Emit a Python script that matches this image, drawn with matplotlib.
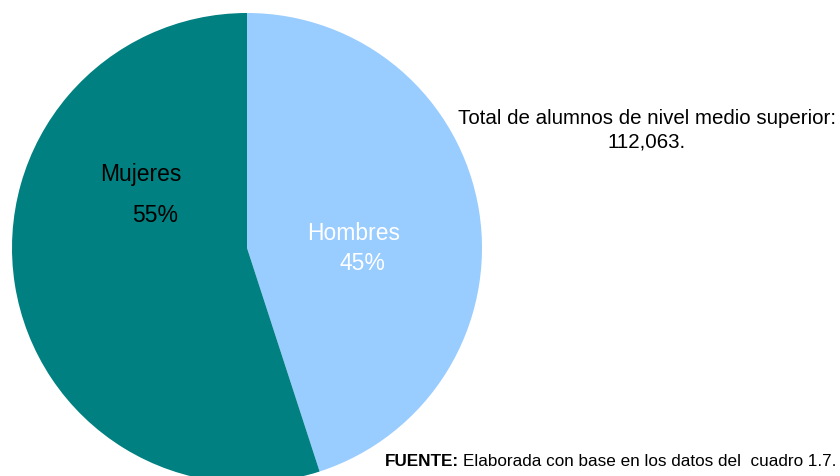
import matplotlib.pyplot as plt

# data
labels = ["Hombres", "Mujeres"]
shares = [45, 55]
colors = ["#99CCFF", "#008080"]
label_colors = ["white", "black"]
total_text = "Total de alumnos de nivel medio superior:\n112,063."
source_bold = "FUENTE:"
source_text = "Elaborada con base en los datos del  cuadro 1.7."

plt.rcParams['font.family'] = ['Liberation Sans', 'DejaVu Sans']

W, H = 840, 477
fig = plt.figure(figsize=(W / 100, H / 100), dpi=100)
ax = fig.add_axes([0, 0, 1, 1])

cx, cy, r = 247, H - 249, 235
wedges, _ = ax.pie(shares, colors=colors, startangle=90, counterclock=False,
                   center=(cx, cy), radius=r, frame=True,
                   wedgeprops=dict(linewidth=0))
for w in wedges:
    w.set_clip_on(False)
ax.set_xlim(0, W)
ax.set_ylim(0, H)
ax.set_aspect("equal")
ax.axis("off")

# slice labels
label_pos = {"Hombres": [(354, 234), (362, 264)], "Mujeres": [(141, 175), (155, 215)]}
for lab, val, tc in zip(labels, shares, label_colors):
    (x1, y1), (x2, y2) = label_pos[lab]
    ax.text(x1, H - y1, lab, ha="center", va="center", fontsize=16.5, color=tc)
    ax.text(x2, H - y2, f"{val}%", ha="center", va="center", fontsize=16.5, color=tc)

ax.text(647, H - 130, total_text, ha="center", va="center", fontsize=14.8,
        color="black", linespacing=1.3)

t1 = ax.text(385, H - 462, source_bold, ha="left", va="center", fontsize=12.3,
             fontweight="bold")
fig.canvas.draw()
bb = t1.get_window_extent()
ax.text(bb.x1 + 4, H - 462, source_text,
        ha="left", va="center", fontsize=12.3)

fig.savefig("out.png", dpi=100)
